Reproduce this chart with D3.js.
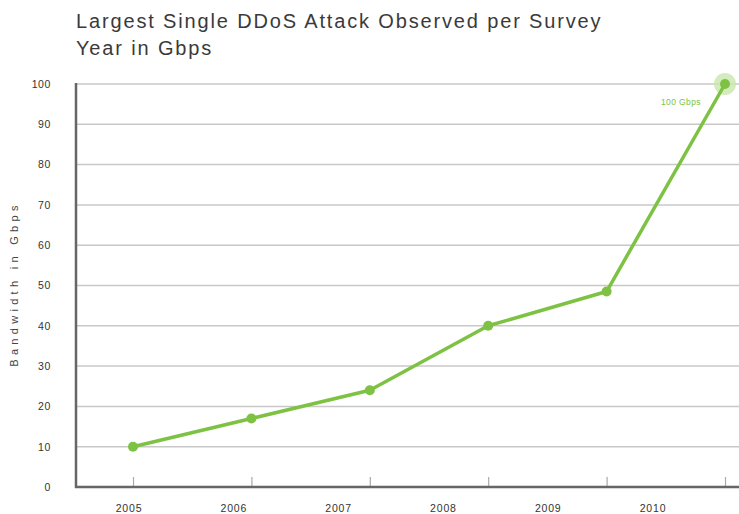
<!DOCTYPE html>
<html><head><meta charset="utf-8">
<script src="https://cdn.jsdelivr.net/npm/d3@7"></script>
<style>body{margin:0;background:#fff}svg{display:block}</style>
</head><body>
<svg id="c" width="739" height="514"></svg>
<script>
const years = ["2005","2006","2007","2008","2009","2010"];
const gbps = [10, 17, 24, 40, 48.5, 100];
const yTicks = [0,10,20,30,40,50,60,70,80,90,100];
const titleLines = ["Largest Single DDoS Attack Observed per Survey","Year in Gbps"];
const yLabel = "Bandwidth in Gbps";
const peakLabel = "100 Gbps";

const svg = d3.select("#c");
const x = d3.scalePoint().domain(years).range([133, 725]);
const xLab = d3.scalePoint().domain(years).range([129, 653]);
const y = d3.scaleLinear().domain([0,100]).range([487, 84]);
const green = "#7dc242";
const font = "Liberation Sans, Arial, sans-serif";

// title
svg.append("g").selectAll("text").data(titleLines).join("text")
  .attr("x", 76).attr("y", (d,i)=>28 + i*27)
  .attr("font-family",font).attr("font-size",20).attr("letter-spacing",1.85)
  .attr("fill","#3a3a3a")
  .text(d=>d);

// gridlines
svg.append("g").selectAll("line").data(yTicks.filter(d=>d>0)).join("line")
  .attr("x1",76).attr("x2",739).attr("y1",d=>y(d)).attr("y2",d=>y(d))
  .attr("stroke","#c8c8c8").attr("stroke-width",1.5);

// y axis
const ya = svg.append("g").attr("transform","translate(76,0)")
  .call(d3.axisLeft(y).tickValues(yTicks).tickSize(0).tickPadding(25).tickFormat(d3.format("d")));
ya.select(".domain").remove();
ya.selectAll("text").attr("font-family",font).attr("font-size",10.5).attr("letter-spacing",0.6).attr("fill","#333");
svg.append("line").attr("x1",76).attr("x2",76).attr("y1",y(100)-1).attr("y2",y(0)+1)
  .attr("stroke","#666").attr("stroke-width",2.5);

// x ticks
const xa = svg.append("g").attr("transform",`translate(0,${y(0)})`)
  .call(d3.axisBottom(x).tickSizeInner(-10).tickSizeOuter(0).tickFormat(""));
xa.select(".domain").remove();
xa.selectAll("line").attr("stroke","#aaa").attr("stroke-width",1.2);
svg.append("line").attr("x1",75).attr("x2",739).attr("y1",y(0)).attr("y2",y(0))
  .attr("stroke","#666").attr("stroke-width",2.5);

// x labels (offset as in source)
svg.append("g").selectAll("text").data(years).join("text")
  .attr("x",d=>xLab(d)).attr("y",512).attr("text-anchor","middle")
  .attr("font-family",font).attr("font-size",10.5).attr("letter-spacing",0.8).attr("fill","#333")
  .text(d=>d);

// y label
svg.append("text").attr("transform","translate(18,284) rotate(-90)")
  .attr("text-anchor","middle")
  .attr("font-family",font).attr("font-size",11).attr("letter-spacing",4.3).attr("fill","#444")
  .text(yLabel);

const pts = years.map((d,i)=>({year:d, v:gbps[i]}));
// halo on peak
const last = pts[pts.length-1];
svg.append("circle").attr("cx",x(last.year)).attr("cy",y(last.v)).attr("r",11)
  .attr("fill","#c9e7ad").attr("opacity",0.8);

// line
svg.append("path").datum(pts)
  .attr("d", d3.line().x(d=>x(d.year)).y(d=>y(d.v)))
  .attr("fill","none").attr("stroke",green).attr("stroke-width",3.5).attr("stroke-linejoin","round");

svg.append("g").selectAll("circle").data(pts).join("circle")
  .attr("cx",d=>x(d.year)).attr("cy",d=>y(d.v)).attr("r",5).attr("fill",green);

svg.append("text").attr("x",x(last.year)-24).attr("y",y(last.v)+21)
  .attr("text-anchor","end")
  .attr("font-family",font).attr("font-size",8.5).attr("letter-spacing",0.4).attr("fill",green)
  .text(peakLabel);
</script>
</body></html>
